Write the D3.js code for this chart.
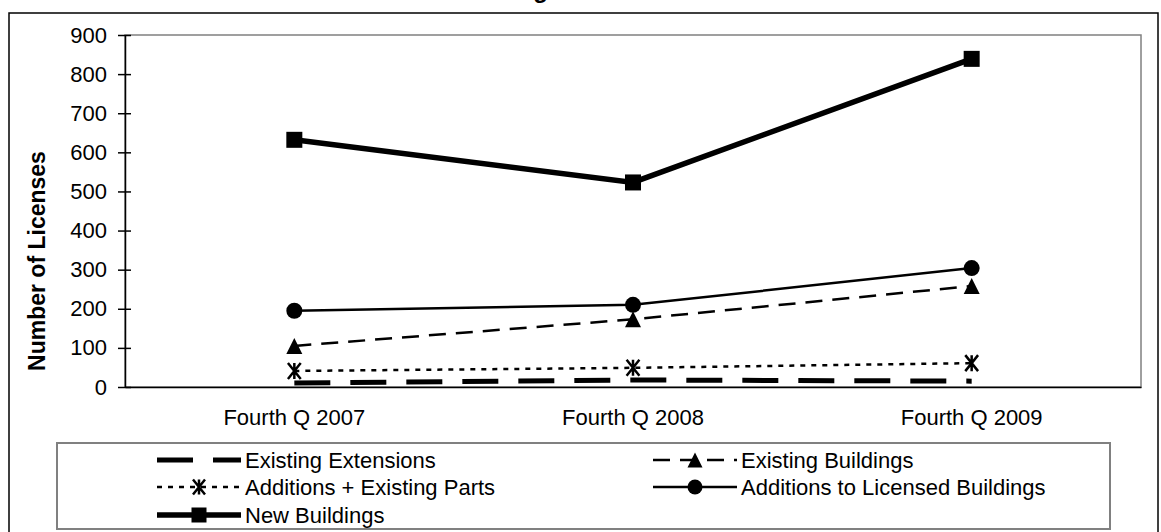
<!DOCTYPE html>
<html>
<head>
<meta charset="utf-8">
<script src="https://cdn.jsdelivr.net/npm/d3@7"></script>
<style>
  html, body { margin: 0; padding: 0; background: #fff; }
  svg { display: block; font-family: "Liberation Sans", Arial, sans-serif; }
</style>
</head>
<body>
<svg id="chart" width="1161" height="532"></svg>
<script>
// ---- data ----
const categories = ["Fourth Q 2007", "Fourth Q 2008", "Fourth Q 2009"];
const existingExtensions = [10, 18, 15];
const existingBuildings = [105, 173, 258];
const additionsExistingParts = [41, 49, 61];
const additionsLicensed = [195, 210, 304];
const newBuildings = [632, 523, 839];
const yTicks = [0, 100, 200, 300, 400, 500, 600, 700, 800, 900];
const seriesNames = ["Existing Extensions", "Existing Buildings", "Additions + Existing  Parts",
                     "Additions to Licensed Buildings", "New  Buildings"];
const titleText = "Building Licenses";
const yTitle = "Number of Licenses";

const series = [
  { name: seriesNames[0], values: existingExtensions, width: 5, dash: "36,20", marker: "none" },
  { name: seriesNames[1], values: existingBuildings, width: 2.5, dash: "17,10", marker: "triangle" },
  { name: seriesNames[2], values: additionsExistingParts, width: 2.5, dash: "5,6", marker: "star" },
  { name: seriesNames[3], values: additionsLicensed, width: 2.5, dash: null, marker: "circle" },
  { name: seriesNames[4], values: newBuildings, width: 5.5, dash: null, marker: "square" }
];

const svg = d3.select("#chart");
const plot = { left: 125, right: 1141, top: 35, bottom: 387 };

// outer chart border
svg.append("rect").attr("x", 9).attr("y", 13).attr("width", 1149).attr("height", 540)
  .attr("fill", "none").attr("stroke", "#000").attr("stroke-width", 1.5);

// title (mostly clipped above the frame)
svg.append("text").attr("x", 452).attr("y", -2).attr("font-size", 24).attr("font-weight", "bold")
  .text(titleText);

const x = d3.scaleBand().domain(categories).range([plot.left, plot.right]);
const y = d3.scaleLinear().domain([0, 900]).range([plot.bottom, plot.top]);

// plot area border
svg.append("rect").attr("x", plot.left).attr("y", plot.top)
  .attr("width", plot.right - plot.left).attr("height", plot.bottom - plot.top)
  .attr("fill", "none").attr("stroke", "#808080").attr("stroke-width", 1.5);

// y axis
const yAxis = d3.axisLeft(y).tickValues(yTicks).tickSizeInner(7).tickSizeOuter(0).tickPadding(11);
const gy = svg.append("g").attr("transform", `translate(${plot.left},0)`).call(yAxis);
gy.select(".domain").attr("stroke", "#000").attr("stroke-width", 1.5);
gy.selectAll(".tick line").attr("stroke", "#000").attr("stroke-width", 1.5).attr("x2", 6).attr("x1", -7);
gy.selectAll(".tick text").attr("font-size", 22).attr("fill", "#000")
  .attr("font-family", "Liberation Sans, Arial, sans-serif").attr("x", -18);

// x axis
const xAxis = d3.axisBottom(x).tickSize(0).tickPadding(22);
const gx = svg.append("g").attr("transform", `translate(0,${plot.bottom})`).call(xAxis);
gx.select(".domain").attr("stroke", "#000").attr("stroke-width", 1.5);
gx.selectAll(".tick text").attr("font-size", 22).attr("fill", "#000")
  .attr("font-family", "Liberation Sans, Arial, sans-serif");

// y title
svg.append("text").attr("transform", `translate(45,261) rotate(-90)`)
  .attr("text-anchor", "middle").attr("font-size", 23).attr("font-weight", "bold").text(yTitle);

// marker drawing
function drawMarker(g, type, cx, cy, s) {
  if (type === "square") {
    g.append("rect").attr("x", cx - s / 2).attr("y", cy - s / 2).attr("width", s).attr("height", s).attr("fill", "#000");
  } else if (type === "circle") {
    g.append("circle").attr("cx", cx).attr("cy", cy).attr("r", s / 2).attr("fill", "#000");
  } else if (type === "triangle") {
    g.append("path").attr("d", `M${cx},${cy - s / 2}L${cx + s / 2},${cy + s / 2}L${cx - s / 2},${cy + s / 2}Z`).attr("fill", "#000");
  } else if (type === "star") {
    const h = s / 2;
    g.append("path").attr("d", `M${cx - h * 0.8},${cy - h}L${cx + h * 0.8},${cy + h}M${cx + h * 0.8},${cy - h}L${cx - h * 0.8},${cy + h}M${cx},${cy - h}L${cx},${cy + h}`)
      .attr("stroke", "#000").attr("stroke-width", 2.5).attr("fill", "none");
  }
}

const cx = c => x(c) + x.bandwidth() / 2;
const line = d3.line().x(d => cx(d.c)).y(d => y(d.v));

series.forEach(s => {
  const pts = categories.map((c, i) => ({ c, v: s.values[i] }));
  const g = svg.append("g");
  g.append("path").datum(pts).attr("d", line).attr("fill", "none").attr("stroke", "#000")
    .attr("stroke-width", s.width).attr("stroke-dasharray", s.dash);
  pts.forEach(p => drawMarker(g, s.marker, cx(p.c), y(p.v), 16));
});

// legend
const legend = { x: 57, y: 443, w: 1053, h: 86 };
svg.append("rect").attr("x", legend.x).attr("y", legend.y).attr("width", legend.w).attr("height", legend.h)
  .attr("fill", "#fff").attr("stroke", "#808080").attr("stroke-width", 2);

const legendPos = [
  { x: 157, y: 460 }, { x: 653, y: 460 },
  { x: 157, y: 487 }, { x: 653, y: 487 },
  { x: 157, y: 515 }
];
series.forEach((s, i) => {
  const p = legendPos[i];
  const g = svg.append("g");
  g.append("line").attr("x1", p.x).attr("x2", p.x + 84).attr("y1", p.y).attr("y2", p.y)
    .attr("stroke", "#000").attr("stroke-width", s.width).attr("stroke-dasharray", s.dash);
  drawMarker(g, s.marker, p.x + 42, p.y, 15);
  g.append("text").attr("x", p.x + 88).attr("y", p.y + 8).attr("font-size", 22).text(s.name);
});
</script>
</body>
</html>
